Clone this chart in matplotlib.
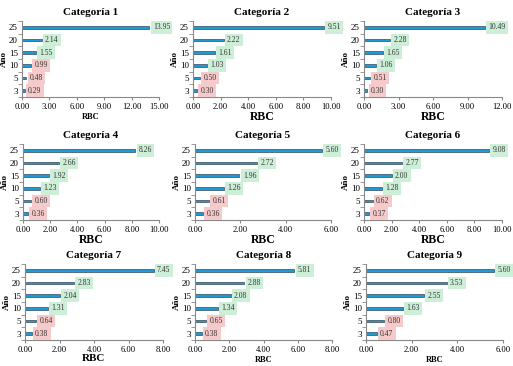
import matplotlib
matplotlib.use("Agg")
import matplotlib.pyplot as plt
import numpy as np

plt.rcParams['font.family'] = ['Liberation Serif', 'DejaVu Serif']

years = ["3", "5", "10", "15", "20", "25"]
titles = ["Categoría 1", "Categoría 2", "Categoría 3", "Categoría 4", "Categoría 5",
          "Categoría 6", "Categoría 7", "Categoría 8", "Categoría 9"]
cat1 = [0.29, 0.48, 0.99, 1.55, 2.14, 13.95]
cat2 = [0.30, 0.50, 1.03, 1.61, 2.22, 9.51]
cat3 = [0.30, 0.51, 1.06, 1.65, 2.28, 10.49]
cat4 = [0.36, 0.60, 1.23, 1.92, 2.66, 8.26]
cat5 = [0.36, 0.61, 1.26, 1.96, 2.72, 5.60]
cat6 = [0.37, 0.62, 1.28, 2.00, 2.77, 9.08]
cat7 = [0.38, 0.64, 1.31, 2.04, 2.83, 7.45]
cat8 = [0.38, 0.65, 1.34, 2.08, 2.88, 5.81]
cat9 = [0.47, 0.80, 1.63, 2.55, 3.53, 5.60]
series = [cat1, cat2, cat3, cat4, cat5, cat6, cat7, cat8, cat9]
xmax = [15, 10, 12, 10, 6, 10, 8, 8, 6]
xstep = [3, 2, 3, 2, 2, 2, 2, 2, 2]

W, H = 513, 366
fig = plt.figure(figsize=(W / 100, H / 100), dpi=100)

# pixel boxes: (left, right, top, bottom)
boxes = [
    (22, 159, 21, 97), (193, 331, 21, 97), (364, 502, 21, 97),
    (23, 159, 144, 220), (195, 331, 144, 220), (364, 502, 144, 220),
    (25, 163, 264, 340), (195, 332, 264, 340), (366, 503, 264, 340),
]
big_xlabel = [False, True, True, True, True, True, True, False, False]

bar_color = "#1E9BD7"
edge_color = "#3A4A5A"
green = "#CDEFD8"
red = "#F6CACA"

for i, (vals, (l, r, t, b)) in enumerate(zip(series, boxes)):
    ax = fig.add_axes([l / W, 1 - b / H, (r - l) / W, (b - t) / H])
    y = np.arange(len(years))
    ax.barh(y, vals, height=0.22, color=bar_color, edgecolor=edge_color, linewidth=0.5)
    for yi, v in zip(y, vals):
        ax.annotate(f"{v:.2f}", xy=(v, yi), xytext=(2.5, 0), textcoords="offset points",
                    ha="left", va="center", fontsize=5.5, color="#333333",
                    bbox=dict(boxstyle="square,pad=0.3",
                              fc=green if v >= 1 else red, ec="none"))
    ax.set_xlim(0, xmax[i])
    ax.set_ylim(-0.5, len(years) - 0.5)
    ticks = np.arange(0, xmax[i] + 0.001, xstep[i])
    ax.set_xticks(ticks)
    ax.set_xticklabels([f"{v:.2f}" for v in ticks])
    ax.set_yticks(y)
    ax.set_yticklabels(years)
    ax.set_yticks(np.arange(-0.5, len(years), 1), minor=True)
    ax.tick_params(axis="y", which="major", length=0, labelsize=6.5, pad=3)
    ax.tick_params(axis="y", which="minor", length=3, color="#888888", direction="out")
    ax.tick_params(axis="x", length=2.5, color="#888888", labelsize=6.2, pad=2)
    for s in ["top", "right"]:
        ax.spines[s].set_visible(False)
    for s in ["left", "bottom"]:
        ax.spines[s].set_color("#888888")
        ax.spines[s].set_linewidth(0.8)
    ax.set_title(titles[i], fontsize=8, fontweight="bold", pad=4)
    if big_xlabel[i]:
        ax.set_xlabel("RBC", fontsize=8 if i == 6 else 8.5, fontweight="bold",
                      labelpad=-0.5)
    else:
        ax.set_xlabel("RBC", fontsize=6, fontweight="bold", labelpad=1)
    ax.set_ylabel("Año", fontsize=6.5, fontweight="bold", labelpad=1)

fig.savefig("out.png", dpi=100)
